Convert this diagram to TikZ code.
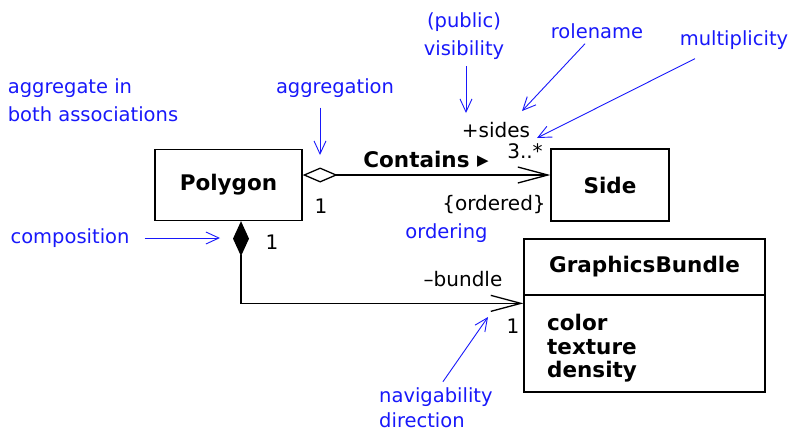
\documentclass[tikz,border=0pt]{standalone}
\usepackage{fontspec}
\setmainfont{DejaVu Sans}
\usetikzlibrary{arrows.meta}
\definecolor{noteblue}{RGB}{24,24,250}
\definecolor{umlblack}{RGB}{0,0,0}

\begin{document}
\begin{tikzpicture}[x=1pt,y=-1pt,
  font=\fontsize{20}{24}\selectfont,
  classbox/.style={draw=umlblack,line width=1.3pt,inner sep=0pt,font=\fontsize{21.5}{24}\selectfont\bfseries},
  lbl/.style={inner sep=0pt,text=umlblack},
  note/.style={inner sep=1pt,text=noteblue,font=\fontsize{19.5}{27.5}\selectfont},
  notearrow/.style={draw=noteblue,line width=0.9pt,-{Straight Barb[length=13pt,width=12pt]}},
  assoc/.style={draw=umlblack,line width=1.3pt}]
  \useasboundingbox (0,0) rectangle (790,432);
  \node[classbox,minimum width=147pt,minimum height=71pt] (polygon) at (228.5,185) {Polygon};
  \node[classbox,minimum width=118pt,minimum height=72pt] (side) at (610,185) {Side};
  \node[classbox,minimum width=241pt,minimum height=56pt] (bundlehead) at (644.5,267) {GraphicsBundle};
  \node[classbox,minimum width=241pt,minimum height=97pt] (bundlebody) at (644.5,343.5) {};
  \node[lbl,anchor=west,align=left,font=\fontsize{21.5}{23.5}\selectfont\bfseries] (attrs) at (547,348.5) {color\\texture\\density};
  \draw[assoc,{Diamond[open,length=35pt,width=15pt]}-{Straight Barb[length=30pt,width=16pt]}]
    ([yshift=10pt]polygon.east) -- ([yshift=10pt]side.west);
  \draw[assoc,{Diamond[length=35pt,width=16pt]}-{Straight Barb[length=30pt,width=16pt]}]
    ([xshift=12.5pt]polygon.south) |- ([yshift=-9pt]bundlebody.north west);
  \node[lbl,font=\fontsize{21.5}{24}\selectfont\bfseries] (contains) at (426,159) {Contains \raisebox{2pt}{\fontsize{15}{15}\selectfont ▶}};
  \node[lbl] (aggrone) at (321,206.5) {1};
  \node[lbl] (sides) at (496,130) {+sides};
  \node[lbl] (mult) at (525,151) {3..*};
  \node[lbl] (ordered) at (494,205) {\{ordered\}};
  \node[lbl] (compone) at (272,242) {1};
  \node[lbl] (bundlerole) at (463,279) {–bundle};
  \node[lbl] (bundleone) at (513,326) {1};
  \node[note,align=left] (bothnote) at (93,100) {aggregate in\\both associations};
  \node[note] (aggrnote) at (335,88) {aggregation};
  \node[note,align=center] (visnote) at (464,36) {(public)\\visibility};
  \node[note] (rolenote) at (597,31) {rolename};
  \node[note] (multnote) at (734,40) {multiplicity};
  \node[note] (compnote) at (70,238) {composition};
  \node[note] (ordernote) at (446.5,233) {ordering};
  \node[note,align=left,anchor=west,font=\fontsize{19.5}{25}\selectfont] (navnote) at (378,408) {navigability\\direction};
  \coordinate (aggrtip) at (320,155);
  \coordinate (vistip) at (466,113);
  \coordinate (roletip) at (522,111);
  \coordinate (multtip) at (537,138);
  \coordinate (comptip) at (220,238);
  \coordinate (navtip) at (488,317);
  \draw[notearrow] (aggrtip |- aggrnote.south) ++(0,9) -- (aggrtip);
  \draw[notearrow] (vistip |- visnote.south) ++(0,6) -- (vistip);
  \draw[notearrow] ([xshift=-12pt,yshift=-4pt]rolenote.south) -- (roletip);
  \draw[notearrow] ([xshift=-39pt,yshift=-8pt]multnote.south) -- (multtip);
  \draw[notearrow] (compnote.east) ++(14,0) -- (comptip);
  \draw[notearrow] ([xshift=7pt,yshift=5pt]navnote.north) -- (navtip);
\end{tikzpicture}
\end{document}
